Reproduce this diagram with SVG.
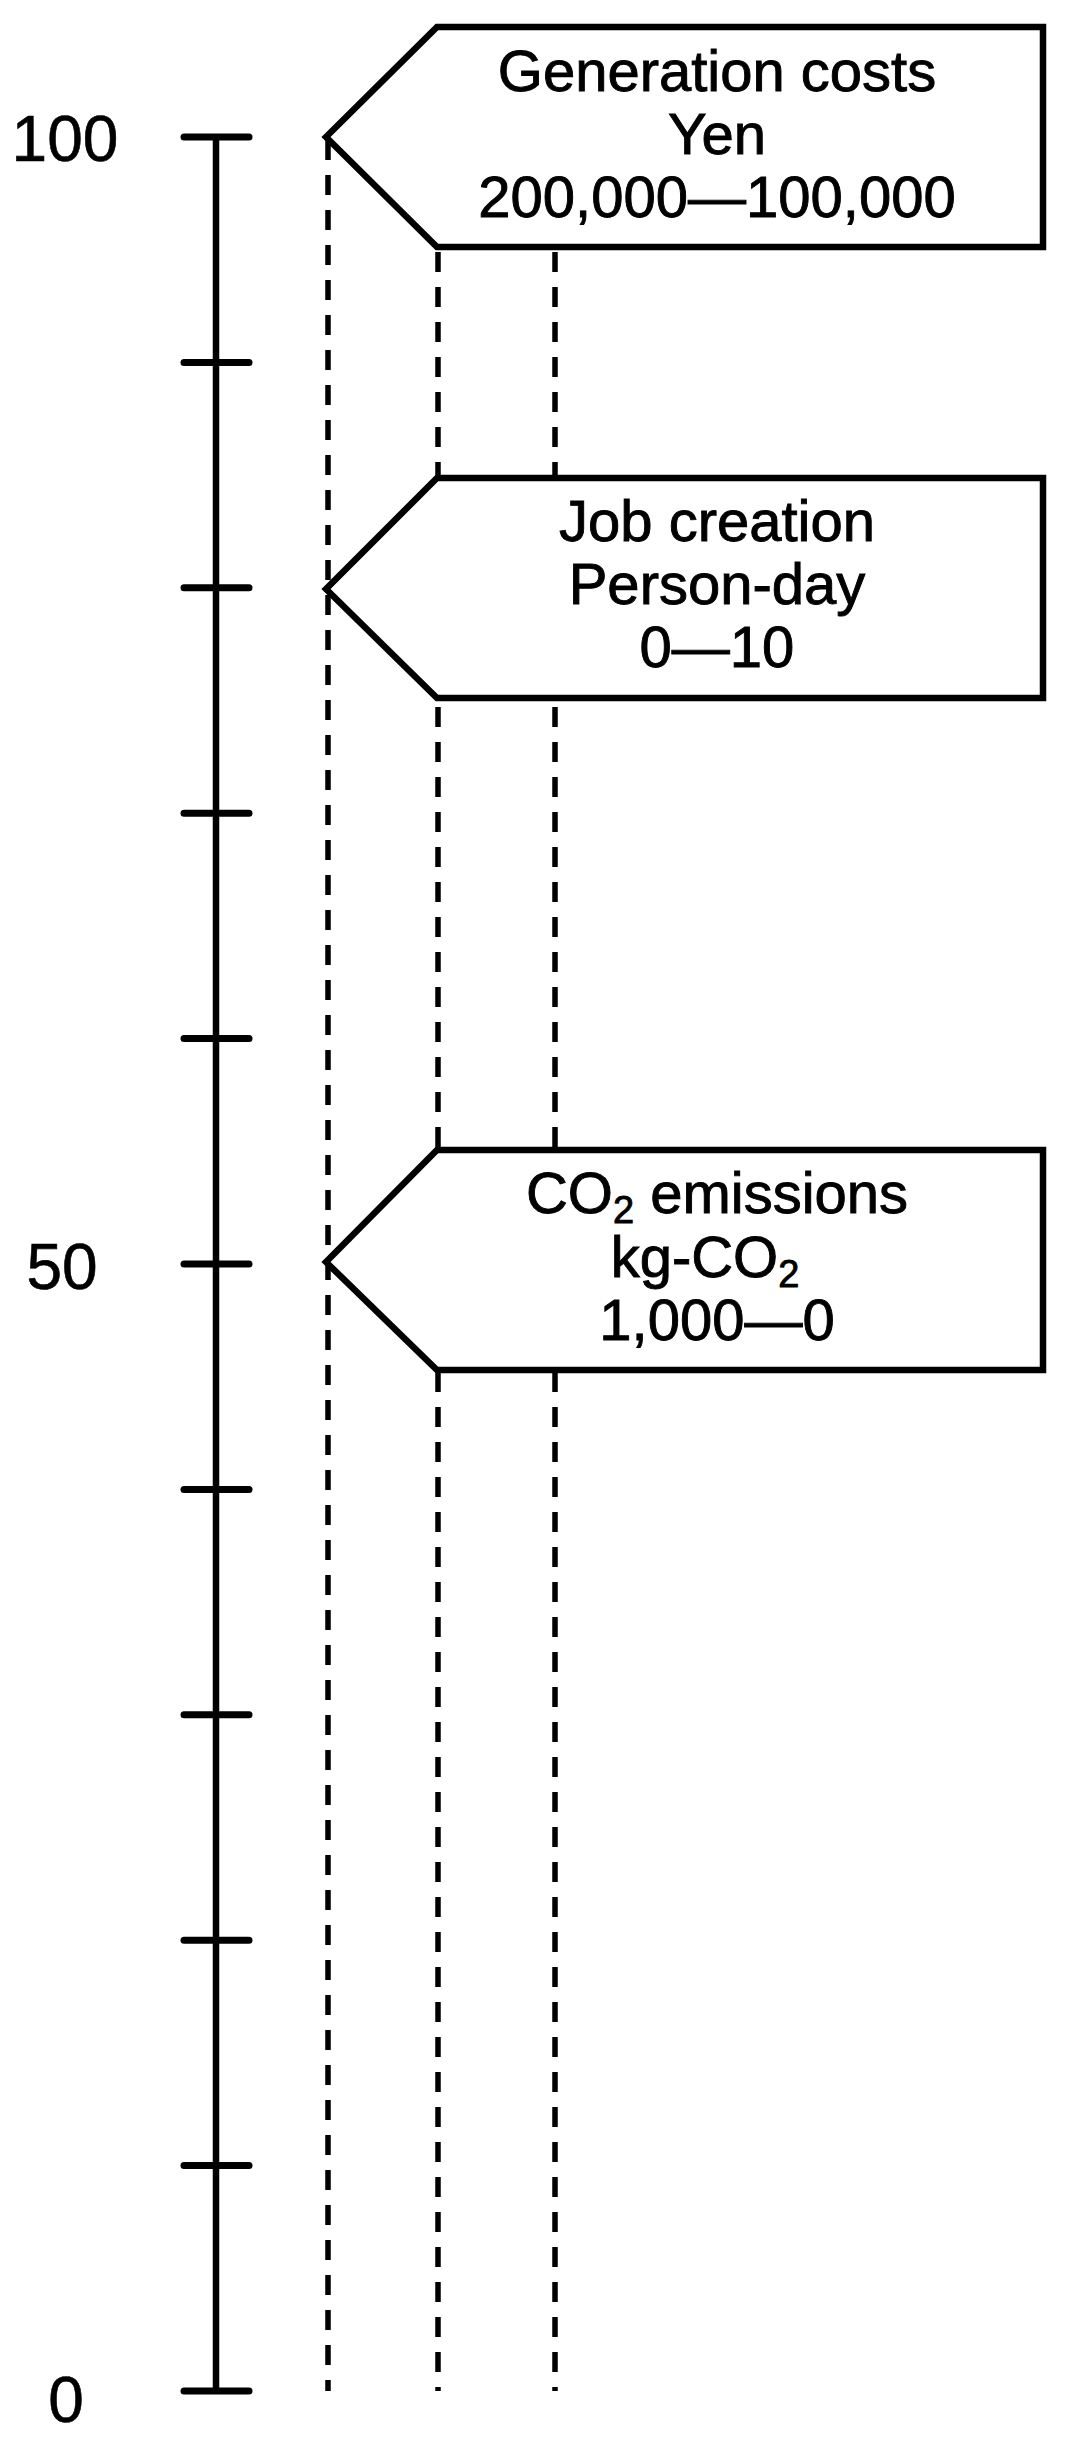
<svg xmlns="http://www.w3.org/2000/svg" width="1070" height="2449" viewBox="0 0 1070 2449">
<style>
.ax{stroke:#000;stroke-width:6.5;fill:none}
.tk{stroke:#000;stroke-width:7;stroke-linecap:round}
.dash{stroke:#000;stroke-width:5.5;stroke-dasharray:20 15;fill:none}
.box{fill:#fff;stroke:#000;stroke-width:6.5;stroke-linejoin:miter}
.t{font-family:"Liberation Sans",Arial,sans-serif;font-size:58px;text-anchor:middle;fill:#000;stroke:#000;stroke-width:0.9}
.al{font-family:"Liberation Sans",Arial,sans-serif;font-size:64px;text-anchor:middle;fill:#000;stroke:#000;stroke-width:0.6}
</style>
<rect width="1070" height="2449" fill="#fff"/>
<g id="axis">
<line class="ax" x1="216" y1="137" x2="216" y2="2391"/>
<line class="tk" x1="184" y1="137" x2="249" y2="137"/>
<line class="tk" x1="184" y1="362.4" x2="249" y2="362.4"/>
<line class="tk" x1="184" y1="587.8" x2="249" y2="587.8"/>
<line class="tk" x1="184" y1="813.2" x2="249" y2="813.2"/>
<line class="tk" x1="184" y1="1038.6" x2="249" y2="1038.6"/>
<line class="tk" x1="184" y1="1264" x2="249" y2="1264"/>
<line class="tk" x1="184" y1="1489.4" x2="249" y2="1489.4"/>
<line class="tk" x1="184" y1="1714.8" x2="249" y2="1714.8"/>
<line class="tk" x1="184" y1="1940.2" x2="249" y2="1940.2"/>
<line class="tk" x1="184" y1="2165.6" x2="249" y2="2165.6"/>
<line class="tk" x1="184" y1="2391" x2="249" y2="2391"/>
<text class="al" x="65" y="161">100</text>
<text class="al" x="62" y="1289">50</text>
<text class="al" x="66" y="2422">0</text>
</g>
<g id="connectors">
<line class="dash" x1="328" y1="140" x2="328" y2="2391"/>
<line class="dash" x1="438" y1="252" x2="438" y2="2391"/>
<line class="dash" x1="555" y1="252" x2="555" y2="2391"/>
</g>
<g id="node-generation-costs">
<polygon class="box" points="326,137 437,27 1043,27 1043,247 437,247"/>
<text class="t" x="717" y="91">Generation costs</text>
<text class="t" x="717" y="154">Yen</text>
<text class="t" x="717" y="217">200,000—100,000</text>
</g>
<g id="node-job-creation">
<polygon class="box" points="326,589 437,478 1043,478 1043,698 437,698"/>
<text class="t" x="717" y="541">Job creation</text>
<text class="t" x="717" y="604">Person-day</text>
<text class="t" x="717" y="667">0—10</text>
</g>
<g id="node-co2-emissions">
<polygon class="box" points="326,1262 437,1150 1043,1150 1043,1370 437,1370"/>
<text class="t" x="717" y="1213">CO<tspan font-size="38" dy="10">2</tspan><tspan dy="-10"> emissions</tspan></text>
<text class="t" x="705" y="1277">kg-CO<tspan font-size="38" dy="10">2</tspan></text>
<text class="t" x="717" y="1340">1,000—0</text>
</g>
</svg>
